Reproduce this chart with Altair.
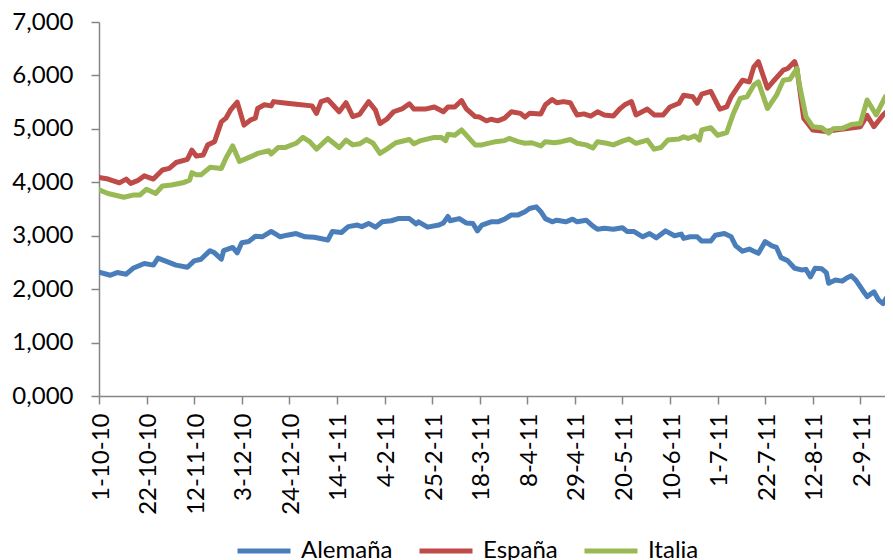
import altair as alt
import pandas as pd

# ---- data (10-year bond yields, %) ----
series_names = ["Alemaña", "España", "Italia"]
series_colors = ["#4A7EBB", "#BE4B48", "#98B954"]

tick_dates = ["2010-10-01", "2010-10-22", "2010-11-12", "2010-12-03", "2010-12-24",
              "2011-01-14", "2011-02-04", "2011-02-25", "2011-03-18", "2011-04-08",
              "2011-04-29", "2011-05-20", "2011-06-10", "2011-07-01", "2011-07-22",
              "2011-08-12", "2011-09-02"]
y_ticks = [0, 1, 2, 3, 4, 5, 6, 7]

dates_alemania = [
    "2010-10-01", "2010-10-06", "2010-10-09", "2010-10-13", "2010-10-16", "2010-10-21",
    "2010-10-25", "2010-10-27", "2010-11-04", "2010-11-09", "2010-11-12", "2010-11-15",
    "2010-11-19", "2010-11-21", "2010-11-24", "2010-11-25", "2010-11-29", "2010-12-01",
    "2010-12-03", "2010-12-06", "2010-12-09", "2010-12-12", "2010-12-16", "2010-12-20",
    "2010-12-23", "2010-12-27", "2010-12-31", "2011-01-04", "2011-01-10", "2011-01-12",
    "2011-01-16", "2011-01-19", "2011-01-23", "2011-01-25", "2011-01-28", "2011-01-31",
    "2011-02-03", "2011-02-07", "2011-02-10", "2011-02-15", "2011-02-18", "2011-02-19",
    "2011-02-23", "2011-02-28", "2011-03-02", "2011-03-04", "2011-03-05", "2011-03-09",
    "2011-03-12", "2011-03-15", "2011-03-17", "2011-03-19", "2011-03-23", "2011-03-26",
    "2011-03-29", "2011-04-01", "2011-04-04", "2011-04-07", "2011-04-09", "2011-04-12",
    "2011-04-14", "2011-04-16", "2011-04-19", "2011-04-21", "2011-04-25", "2011-04-28",
    "2011-04-30", "2011-05-04", "2011-05-07", "2011-05-09", "2011-05-12", "2011-05-16",
    "2011-05-20", "2011-05-22", "2011-05-25", "2011-05-29", "2011-06-01", "2011-06-04",
    "2011-06-08", "2011-06-12", "2011-06-15", "2011-06-16", "2011-06-19", "2011-06-22",
    "2011-06-24", "2011-06-28", "2011-06-30", "2011-07-04", "2011-07-07", "2011-07-09",
    "2011-07-12", "2011-07-15", "2011-07-17", "2011-07-19", "2011-07-22", "2011-07-25",
    "2011-07-27", "2011-07-29", "2011-08-01", "2011-08-04", "2011-08-07", "2011-08-09",
    "2011-08-11", "2011-08-13", "2011-08-16", "2011-08-18", "2011-08-19", "2011-08-22",
    "2011-08-25", "2011-08-27", "2011-08-29", "2011-08-31", "2011-09-03", "2011-09-05",
    "2011-09-08", "2011-09-10", "2011-09-12", "2011-09-15", "2011-09-16"]
vals_alemania = [
    2.32, 2.26, 2.31, 2.28, 2.39, 2.48,
    2.45, 2.58, 2.45, 2.41, 2.53, 2.56,
    2.72, 2.68, 2.56, 2.72, 2.78, 2.68,
    2.87, 2.89, 2.99, 2.98, 3.08, 2.98,
    3.01, 3.04, 2.98, 2.97, 2.92, 3.08,
    3.06, 3.17, 3.20, 3.17, 3.23, 3.16,
    3.26, 3.28, 3.32, 3.32, 3.22, 3.26,
    3.16, 3.20, 3.24, 3.36, 3.28, 3.32,
    3.24, 3.23, 3.09, 3.20, 3.26, 3.26,
    3.31, 3.39, 3.39, 3.45, 3.51, 3.54,
    3.45, 3.32, 3.26, 3.29, 3.26, 3.31,
    3.26, 3.29, 3.18, 3.12, 3.14, 3.12,
    3.15, 3.08, 3.08, 2.98, 3.04, 2.96,
    3.09, 3.00, 3.03, 2.95, 2.98, 2.98,
    2.90, 2.90, 3.01, 3.04, 2.98, 2.81,
    2.71, 2.75, 2.71, 2.67, 2.89, 2.81,
    2.78, 2.59, 2.53, 2.39, 2.36, 2.37,
    2.23, 2.39, 2.38, 2.31, 2.11, 2.17,
    2.15, 2.21, 2.25, 2.17, 1.98, 1.86,
    1.95, 1.80, 1.73, 1.94, 1.98]

dates_espana = [
    "2010-10-01", "2010-10-05", "2010-10-10", "2010-10-13", "2010-10-15", "2010-10-18",
    "2010-10-21", "2010-10-25", "2010-10-29", "2010-11-01", "2010-11-04", "2010-11-09",
    "2010-11-11", "2010-11-13", "2010-11-16", "2010-11-18", "2010-11-21", "2010-11-24",
    "2010-11-26", "2010-11-28", "2010-12-01", "2010-12-04", "2010-12-07", "2010-12-09",
    "2010-12-10", "2010-12-13", "2010-12-16", "2010-12-17", "2010-12-21", "2010-12-27",
    "2011-01-03", "2011-01-05", "2011-01-07", "2011-01-10", "2011-01-15", "2011-01-18",
    "2011-01-21", "2011-01-24", "2011-01-28", "2011-01-31", "2011-02-02", "2011-02-05",
    "2011-02-08", "2011-02-12", "2011-02-15", "2011-02-17", "2011-02-22", "2011-02-26",
    "2011-03-02", "2011-03-04", "2011-03-07", "2011-03-10", "2011-03-12", "2011-03-16",
    "2011-03-18", "2011-03-21", "2011-03-23", "2011-03-26", "2011-03-29", "2011-04-01",
    "2011-04-05", "2011-04-07", "2011-04-09", "2011-04-14", "2011-04-16", "2011-04-19",
    "2011-04-21", "2011-04-24", "2011-04-27", "2011-04-28", "2011-04-30", "2011-05-03",
    "2011-05-06", "2011-05-09", "2011-05-12", "2011-05-16", "2011-05-19", "2011-05-21",
    "2011-05-24", "2011-05-26", "2011-05-31", "2011-06-03", "2011-06-07", "2011-06-10",
    "2011-06-14", "2011-06-16", "2011-06-20", "2011-06-22", "2011-06-24", "2011-06-28",
    "2011-07-02", "2011-07-05", "2011-07-07", "2011-07-10", "2011-07-12", "2011-07-15",
    "2011-07-17", "2011-07-19", "2011-07-23", "2011-07-26", "2011-07-30", "2011-08-01",
    "2011-08-04", "2011-08-05", "2011-08-08", "2011-08-12", "2011-08-18", "2011-08-22",
    "2011-08-28", "2011-09-02", "2011-09-05", "2011-09-08", "2011-09-12", "2011-09-15",
    "2011-09-16"]
vals_espana = [
    4.09, 4.06, 3.99, 4.06, 3.98, 4.03,
    4.12, 4.06, 4.23, 4.26, 4.37, 4.43,
    4.60, 4.49, 4.51, 4.70, 4.76, 5.13,
    5.20, 5.35, 5.50, 5.07, 5.17, 5.20,
    5.38, 5.45, 5.43, 5.51, 5.49, 5.46,
    5.43, 5.29, 5.51, 5.55, 5.32, 5.49,
    5.23, 5.27, 5.51, 5.35, 5.10, 5.18,
    5.32, 5.38, 5.47, 5.37, 5.37, 5.41,
    5.32, 5.41, 5.41, 5.53, 5.38, 5.23,
    5.22, 5.15, 5.18, 5.15, 5.20, 5.32,
    5.29, 5.22, 5.29, 5.28, 5.45, 5.55,
    5.49, 5.51, 5.49, 5.41, 5.26, 5.28,
    5.24, 5.32, 5.26, 5.24, 5.38, 5.45,
    5.51, 5.26, 5.37, 5.26, 5.26, 5.41,
    5.48, 5.63, 5.60, 5.48, 5.65, 5.70,
    5.37, 5.41, 5.60, 5.79, 5.91, 5.88,
    6.16, 6.26, 5.76, 5.91, 6.10, 6.13,
    6.26, 6.13, 5.20, 4.98, 4.95, 4.98,
    5.01, 5.04, 5.25, 5.04, 5.26, 5.38,
    5.32]

dates_italia = [
    "2010-10-01", "2010-10-05", "2010-10-12", "2010-10-16", "2010-10-19", "2010-10-22",
    "2010-10-26", "2010-10-29", "2010-11-02", "2010-11-07", "2010-11-10", "2010-11-11",
    "2010-11-13", "2010-11-15", "2010-11-19", "2010-11-24", "2010-11-26", "2010-11-29",
    "2010-12-02", "2010-12-07", "2010-12-10", "2010-12-15", "2010-12-16", "2010-12-19",
    "2010-12-22", "2010-12-27", "2010-12-30", "2011-01-02", "2011-01-05", "2011-01-10",
    "2011-01-15", "2011-01-18", "2011-01-21", "2011-01-24", "2011-01-27", "2011-01-30",
    "2011-02-02", "2011-02-05", "2011-02-09", "2011-02-15", "2011-02-17", "2011-02-20",
    "2011-02-26", "2011-03-01", "2011-03-03", "2011-03-04", "2011-03-07", "2011-03-10",
    "2011-03-13", "2011-03-16", "2011-03-19", "2011-03-25", "2011-03-29", "2011-03-31",
    "2011-04-04", "2011-04-07", "2011-04-10", "2011-04-14", "2011-04-16", "2011-04-20",
    "2011-04-23", "2011-04-27", "2011-04-30", "2011-05-04", "2011-05-07", "2011-05-09",
    "2011-05-13", "2011-05-16", "2011-05-20", "2011-05-23", "2011-05-26", "2011-05-31",
    "2011-06-03", "2011-06-06", "2011-06-09", "2011-06-14", "2011-06-16", "2011-06-18",
    "2011-06-21", "2011-06-23", "2011-06-24", "2011-06-28", "2011-07-01", "2011-07-05",
    "2011-07-08", "2011-07-11", "2011-07-14", "2011-07-17", "2011-07-19", "2011-07-23",
    "2011-07-27", "2011-07-30", "2011-08-02", "2011-08-05", "2011-08-06", "2011-08-09",
    "2011-08-12", "2011-08-16", "2011-08-19", "2011-08-21", "2011-08-25", "2011-08-29",
    "2011-09-02", "2011-09-05", "2011-09-09", "2011-09-13", "2011-09-16"]
vals_italia = [
    3.86, 3.79, 3.72, 3.76, 3.76, 3.87,
    3.79, 3.93, 3.95, 3.99, 4.04, 4.18,
    4.14, 4.14, 4.28, 4.26, 4.45, 4.68,
    4.39, 4.48, 4.54, 4.59, 4.53, 4.65,
    4.65, 4.73, 4.84, 4.76, 4.62, 4.82,
    4.65, 4.79, 4.70, 4.72, 4.80, 4.73,
    4.54, 4.62, 4.74, 4.80, 4.72, 4.78,
    4.84, 4.84, 4.78, 4.90, 4.88, 4.98,
    4.84, 4.70, 4.70, 4.76, 4.78, 4.82,
    4.76, 4.73, 4.74, 4.68, 4.76, 4.74,
    4.76, 4.80, 4.73, 4.70, 4.64, 4.76,
    4.73, 4.70, 4.77, 4.81, 4.73, 4.79,
    4.62, 4.65, 4.79, 4.81, 4.85, 4.82,
    4.87, 4.79, 4.98, 5.02, 4.88, 4.93,
    5.29, 5.57, 5.60, 5.82, 5.88, 5.38,
    5.63, 5.91, 5.93, 6.13, 5.85, 5.23,
    5.04, 5.02, 4.92, 5.00, 5.01, 5.08,
    5.10, 5.54, 5.26, 5.60, 5.57]

# ---- build the long table ----
frames = []
for name, d, v in [(series_names[0], dates_alemania, vals_alemania),
                   (series_names[1], dates_espana, vals_espana),
                   (series_names[2], dates_italia, vals_italia)]:
    frames.append(pd.DataFrame({"fecha": d, "valor": v, "serie": name}))
df = pd.concat(frames, ignore_index=True)

FONT = "Lato"
GREY = "#868686"

x_domain = [alt.DateTime(year=2010, month=10, date=1, utc=True),
            alt.DateTime(year=2011, month=9, date=16, hours=10, utc=True)]
tick_vals = [alt.DateTime(year=int(s[:4]), month=int(s[5:7]), date=int(s[8:]), utc=True)
             for s in tick_dates]

chart = alt.Chart(df).mark_line(
    strokeWidth=5, strokeJoin="round", strokeCap="round", clip=True
).encode(
    x=alt.X("fecha:T",
            scale=alt.Scale(type="utc", domain=x_domain, nice=False, range=[0, 794]),
            axis=alt.Axis(values=tick_vals, title=None, grid=False,
                          labelExpr="utcFormat(datum.value, '%-d-%-m-%y')",
                          labelAngle=270, labelPadding=9, labelOffset=2,
                          tickSize=8, labelOverlap=False, labelBound=False,
                          labelFlush=False)),
    y=alt.Y("valor:Q",
            scale=alt.Scale(domain=[0, 7], nice=False, zero=True),
            axis=alt.Axis(values=y_ticks, title=None, grid=False,
                          labelExpr="replace(format(datum.value, '.3f'), '.', ',')",
                          labelPadding=18, tickSize=8)),
    color=alt.Color("serie:N",
                    scale=alt.Scale(domain=series_names, range=series_colors),
                    legend=alt.Legend(title=None, orient="none", direction="horizontal",
                                      legendX=136, legendY=500,
                                      symbolType="stroke", symbolSize=2809,
                                      symbolStrokeWidth=5, labelOffset=8,
                                      columnPadding=16, labelFontSize=24,
                                      labelFont=FONT, labelColor="#000000",
                                      padding=0)),
    detail="serie:N",
).properties(
    width=786,
    height=374,
    autosize=alt.AutoSizeParams(type="none"),
    padding={"left": 91, "top": 14, "right": 0, "bottom": 164},
).configure_axis(
    labelFont=FONT, labelFontSize=24, labelColor="#000000",
    domainColor=GREY, domainWidth=1.5, tickColor=GREY, tickWidth=1.5,
).configure_view(stroke=None)

chart.save("out.html", embed_options={"renderer": "svg", "actions": False})
